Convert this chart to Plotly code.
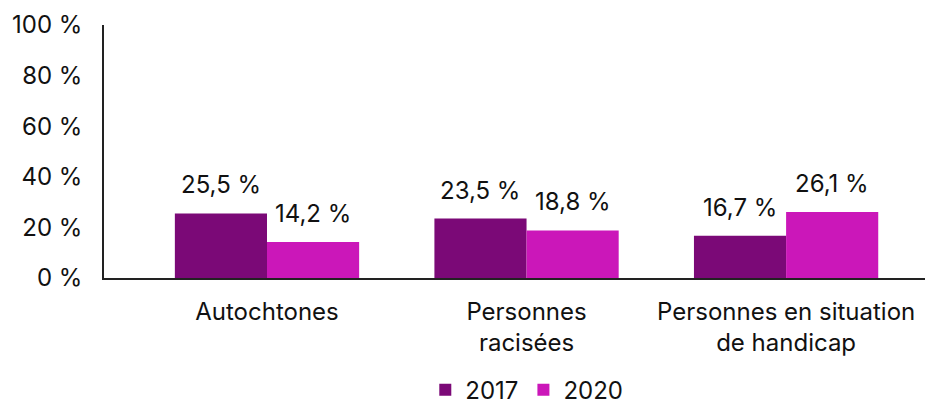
import plotly.graph_objects as go

categories = ["Autochtones", "Personnes<br>racisées", "Personnes en situation<br>de handicap"]
values_2017 = [25.5, 23.5, 16.7]
values_2020 = [14.2, 18.8, 26.1]
series_names = ["2017", "2020"]
colors = ["#7B0977", "#CB17B9"]
y_ticks = [0, 20, 40, 60, 80, 100]


def fmt(v):
    return f"{v:.1f}".replace(".", ",") + " %"


BARGAP = 0.29
PX_PER_CAT = 259.5  # plot width 829 px / x-range span
half = (1 - BARGAP) / 4 * PX_PER_CAT

fig = go.Figure()
for i, (name, vals, col) in enumerate(zip(series_names, [values_2017, values_2020], colors)):
    fig.add_trace(go.Bar(x=categories, y=vals, name=name, marker_color=col, marker_line_width=0))
    shift = -half if i == 0 else half
    for cat, v in zip(categories, vals):
        fig.add_annotation(x=cat, y=v, text=fmt(v), showarrow=False, xshift=shift,
                           yanchor="bottom", yshift=12, font=dict(size=24, color="#111111"))

# page body has an 8px margin, so the figure is 8px smaller on each side
fig.update_layout(
    width=925, height=399,
    margin=dict(l=96, r=0, t=17, b=129),
    paper_bgcolor="white", plot_bgcolor="white",
    font=dict(family="Inter, Roboto, sans-serif", size=24, color="#111111"),
    barmode="group", bargap=BARGAP, bargroupgap=0,
    showlegend=True,
    legend=dict(orientation="h", x=0.51, xanchor="center", yref="container", y=0.042,
                yanchor="middle", font=dict(size=24), itemwidth=30, traceorder="normal"),
)
fig.update_xaxes(
    range=[-0.628, 2.566], showline=True, linecolor="#222222", linewidth=1.5,
    ticks="", showgrid=False, ticklabelstandoff=11, automargin=False,
)
fig.update_yaxes(
    range=[0, 100], tickvals=y_ticks, ticktext=[f"{t} %" for t in y_ticks],
    showline=True, linecolor="#222222", linewidth=1.5, showgrid=False,
    ticks="", ticklabelstandoff=15, zeroline=False, automargin=False,
)

fig.write_html("out.html")
